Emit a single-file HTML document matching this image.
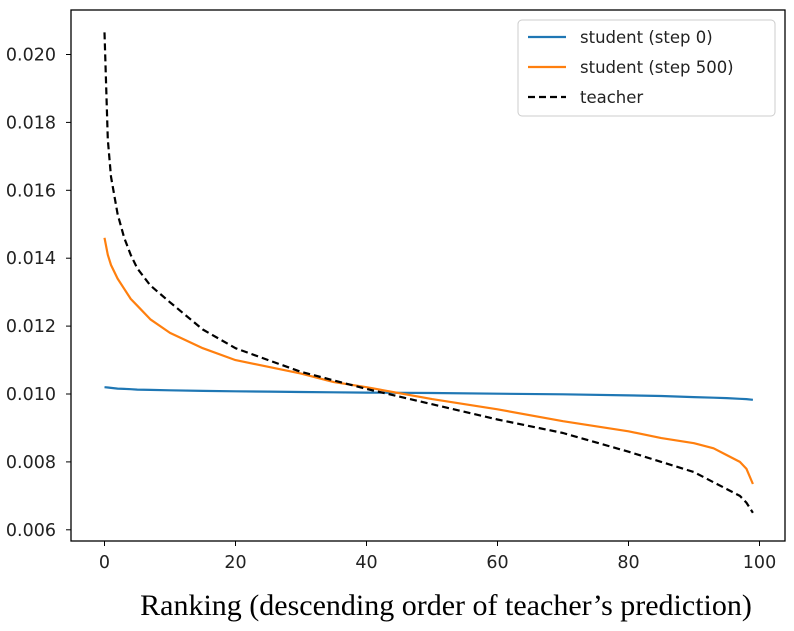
<!DOCTYPE html>
<html><head><meta charset="utf-8"><style>
body{margin:0;background:#fff;width:794px;height:626px;overflow:hidden}
svg text{font-family:"DejaVu Sans",sans-serif}
</style></head><body>
<svg id="chart" width="794" height="626">
<g id="axes"></g>
<g id="series"></g>
<rect x="71" y="10" width="714" height="531" fill="none" stroke="#000" stroke-width="1.3"/>
<g>
<rect x="518" y="20" width="257" height="96" rx="4" fill="#fff" stroke="#ccc"/>
<line x1="528" y1="37" x2="566" y2="37" stroke="#1f77b4" stroke-width="2.2"/>
<text x="580" y="43" font-size="16.5" fill="#222">student (step 0)</text>
<line x1="528" y1="67" x2="566" y2="67" stroke="#ff7f0e" stroke-width="2.2"/>
<text x="580" y="73" font-size="16.5" fill="#222">student (step 500)</text>
<line x1="528" y1="97" x2="566" y2="97" stroke="#000" stroke-width="2.2" stroke-dasharray="7,4"/>
<text x="580" y="103" font-size="16.5" fill="#222">teacher</text>
</g>
<text x="446" y="615" text-anchor="middle" font-size="30" style="font-family:'Liberation Serif',serif" fill="#000">Ranking (descending order of teacher’s prediction)</text>
</svg>
<script>
const ranks=[0,0.5,1,2,3,4,5,7,10,15,20,25,30,35,40,50,60,70,80,85,90,93,95,97,98,99];
const teacher=[0.02065,0.0175,0.0164,0.0153,0.0146,0.0141,0.0137,0.0132,0.0127,0.0119,0.01135,0.0110,0.01065,0.0104,0.01015,0.0097,0.00925,0.00885,0.0083,0.0080,0.0077,0.0074,0.0072,0.0070,0.0068,0.0065];
const step500=[0.0146,0.0141,0.0138,0.0134,0.0131,0.0128,0.0126,0.0122,0.0118,0.01135,0.0110,0.0108,0.0106,0.01035,0.0102,0.00985,0.00955,0.0092,0.0089,0.0087,0.00855,0.0084,0.0082,0.0080,0.0078,0.00735];
const step0=[0.0102,0.01019,0.01018,0.01016,0.01015,0.01014,0.01013,0.01012,0.01011,0.01009,0.01008,0.01007,0.01006,0.01005,0.01004,0.01003,0.01001,0.00999,0.00996,0.00994,0.00991,0.00989,0.00988,0.00986,0.00985,0.00983];
const xTicks=[0,20,40,60,80,100];
const yTicks=[0.006,0.008,0.010,0.012,0.014,0.016,0.018,0.020];
const NS="http://www.w3.org/2000/svg";
const xs=v=>104.5+v*6.55;
const ys=v=>394-(v-0.010)*33950;
const axes=document.getElementById('axes'),series=document.getElementById('series');
function mk(tag,attrs,parent){const e=document.createElementNS(NS,tag);for(const k in attrs)e.setAttribute(k,attrs[k]);parent.appendChild(e);return e;}
xTicks.forEach(t=>{
 const l=mk('line',{x1:xs(t),x2:xs(t),y1:541,y2:546,stroke:'#000'},axes);
 
 
 const tx=mk('text',{x:xs(t),y:568,'text-anchor':'middle','font-size':17.5,fill:'#222'},axes);
 tx.textContent=t;
 
 
});
yTicks.forEach(t=>{
 const l=mk('line',{x1:66,x2:71,y1:ys(t),y2:ys(t),stroke:'#000'},axes);
 
 
 const tx=mk('text',{x:56,y:ys(t)+6,'text-anchor':'end','font-size':17.5,fill:'#222'},axes);
 tx.textContent=t.toFixed(3);
 
 
});
function line(vals,color,dash,name){
 const d=ranks.map((r,i)=>(i?'L':'M')+xs(r).toFixed(1)+','+ys(vals[i]).toFixed(1)).join(' ');
 const p=mk('path',{d:d,fill:'none',stroke:color,'stroke-width':2.2,'stroke-linejoin':'round'},series);
 if(dash)p.setAttribute('stroke-dasharray',dash);
 
 
}
line(step0,'#1f77b4',null,'line-student-step0');
line(step500,'#ff7f0e',null,'line-student-step500');
line(teacher,'#000','7,4','line-teacher');
</script>
</body></html>
